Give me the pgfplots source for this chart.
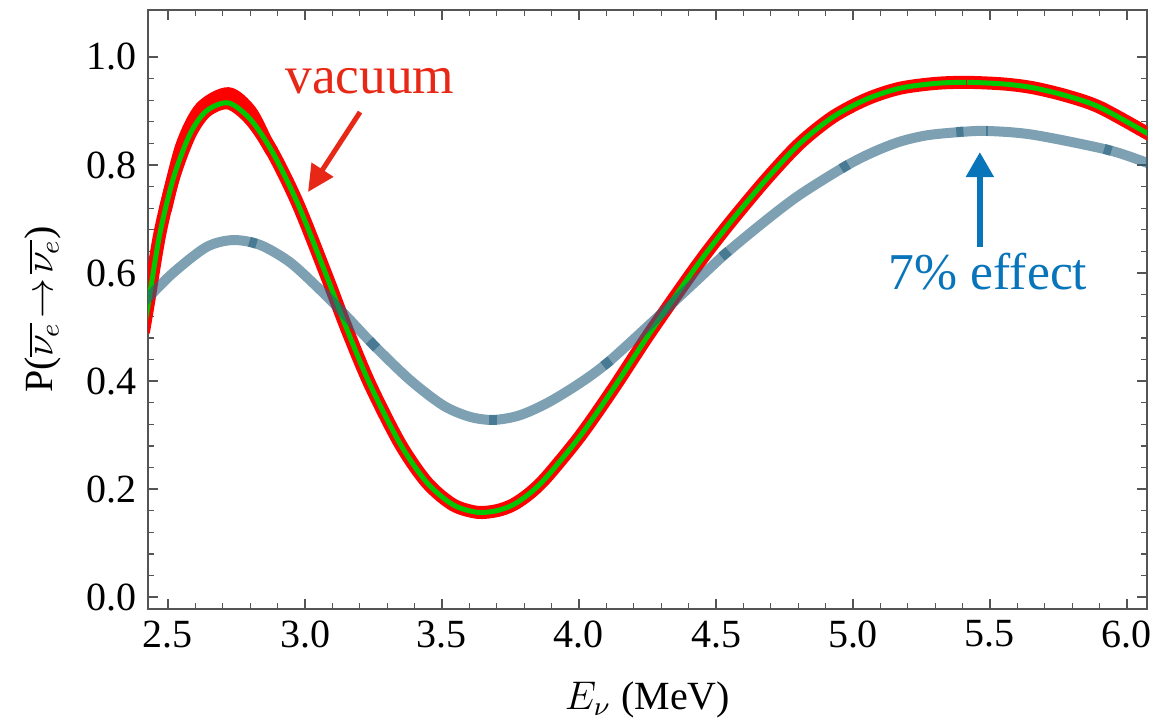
\documentclass[border=0pt]{standalone}
\usepackage{fontspec}
\setmainfont{Liberation Serif}
\usepackage{pgfplots}
\usepackage{pgfplotstable}
\pgfplotsset{compat=1.18}
\usetikzlibrary{arrows.meta}

\definecolor{vacred}{RGB}{255,0,0}
\definecolor{vacgreen}{RGB}{0,200,0}
\definecolor{matter}{RGB}{38,97,127}
\definecolor{labred}{RGB}{232,40,22}
\definecolor{labblue}{RGB}{8,116,186}
\definecolor{framegray}{RGB}{85,85,85}

% vacuum curve (centre of the red band, green line)
\pgfplotstableread{
E P
2.41 0.49
2.427 0.54
2.47 0.672
2.52 0.776
2.58 0.857
2.64 0.900
2.72 0.915
2.80 0.885
2.88 0.825
2.974 0.728
3.08 0.593
3.153 0.496
3.237 0.394
3.347 0.284
3.445 0.212
3.54 0.171
3.628 0.157
3.70 0.160
3.76 0.171
3.82 0.192
3.883 0.223
4.004 0.298
4.124 0.385
4.248 0.481
4.368 0.569
4.46 0.634
4.562 0.700
4.686 0.775
4.806 0.840
4.927 0.889
5.05 0.922
5.17 0.942
5.30 0.951
5.416 0.953
5.55 0.950
5.657 0.943
5.78 0.928
5.90 0.907
6.073 0.859
6.09 0.854
}\vacuum

% upper edge of the band near the first peak
\pgfplotstableread{
E P
2.49 0.716
2.55 0.835
2.62 0.905
2.72 0.932
2.80 0.900
2.86 0.842
2.88 0.825
}\vacupper

% matter curve
\pgfplotstableread{
E P
2.41 0.546
2.427 0.554
2.518 0.600
2.64 0.648
2.737 0.661
2.836 0.652
2.945 0.620
3.055 0.569
3.153 0.519
3.248 0.468
3.383 0.402
3.504 0.355
3.60 0.334
3.686 0.328
3.78 0.336
3.883 0.359
4.0 0.395
4.102 0.433
4.248 0.500
4.368 0.557
4.44 0.591
4.54 0.638
4.686 0.699
4.806 0.745
4.97 0.797
5.07 0.823
5.17 0.843
5.27 0.855
5.39 0.861
5.49 0.863
5.657 0.856
5.93 0.828
6.073 0.804
6.09 0.800
}\matter

\begin{document}
\begin{tikzpicture}
\begin{axis}[
  name=ax,
  scale only axis,
  width=299.7pt,
  height=179.7pt,
  xmin=2.427, xmax=6.073,
  ymin=-0.022, ymax=1.087,
  xtick={2.5,3,3.5,4,4.5,5,5.5,6},
  ytick={0,0.2,0.4,0.6,0.8,1.0},
  minor x tick num=4,
  minor y tick num=4,
  tick align=inside,
  major tick length=3pt,
  minor tick length=1.8pt,
  axis line style={framegray, line width=0.5pt},
  every tick/.style={framegray, line width=0.4pt},
  xticklabel style={/pgf/number format/.cd, fixed, fixed zerofill, precision=1},
  yticklabel style={/pgf/number format/.cd, fixed, fixed zerofill, precision=1},
  /pgf/number format/assume math mode=true,
  tick label style={font=\rmfamily\fontsize{12}{14}\selectfont},
  xlabel={$E_\nu$ (MeV)},
  ylabel={P($\overline{\nu_e}\!\rightarrow\!\overline{\nu_e}$)},
  every axis x label/.style={at={(axis description cs:0.5,-0.152)}, anchor=center,
    font=\rmfamily\fontsize{12}{14}\selectfont},
  every axis y label/.style={at={(axis description cs:-0.105,0.5)}, anchor=center, rotate=90,
    font=\rmfamily\fontsize{12}{14}\selectfont},
]
\addplot[vacred, line width=3.9pt, smooth] table {\vacuum};
\addplot[vacred, line width=3.9pt, smooth] table {\vacupper};
\addplot[vacgreen, line width=1.5pt, smooth] table {\vacuum};
\addplot[vacred, line width=1.6pt] coordinates {(5.4135,0.953) (5.4175,0.953)};
\addplot[matter, opacity=0.6, line width=3pt, smooth] table {\matter};

% darker marks on the matter curve
\addplot[matter, opacity=0.6, line width=3pt] coordinates {(2.797,0.658) (2.823,0.654)};
\addplot[matter, opacity=0.6, line width=3pt] coordinates {(3.235,0.475) (3.261,0.461)};
\addplot[matter, opacity=0.6, line width=3pt] coordinates {(3.673,0.328) (3.699,0.328)};
\addplot[matter, opacity=0.6, line width=3pt] coordinates {(4.089,0.428) (4.115,0.438)};
\addplot[matter, opacity=0.6, line width=3pt] coordinates {(4.520,0.630) (4.546,0.641)};
\addplot[matter, opacity=0.6, line width=3pt] coordinates {(4.957,0.793) (4.983,0.801)};
\addplot[matter, opacity=0.6, line width=3pt] coordinates {(5.377,0.861) (5.403,0.862)};
\addplot[matter, opacity=0.6, line width=3pt] coordinates {(5.487,0.863) (5.493,0.863)};
\addplot[matter, opacity=0.6, line width=3pt] coordinates {(5.917,0.830) (5.943,0.826)};

% annotations
\node[labred, anchor=base, font=\rmfamily\fontsize{16}{18}\selectfont] at (axis cs:3.237,0.933) {vacuum};
\draw[labred, line width=1.5pt, -{Triangle[length=8pt,width=7.5pt]}] (axis cs:3.201,0.898) -- (axis cs:3.011,0.750);
\draw[labblue, line width=1.8pt, -{Triangle[length=7.5pt,width=8pt]}] (axis cs:5.463,0.648) -- (axis cs:5.463,0.824);
\node[labblue, anchor=base, font=\rmfamily\fontsize{15.5}{18}\selectfont] at (axis cs:5.493,0.569) {7\% effect};
\end{axis}
\pgfresetboundingbox
\path ([shift={(-44.4pt,-33pt)}]ax.south west) rectangle ([shift={(8.4pt,3pt)}]ax.north east);
\end{tikzpicture}
\end{document}
